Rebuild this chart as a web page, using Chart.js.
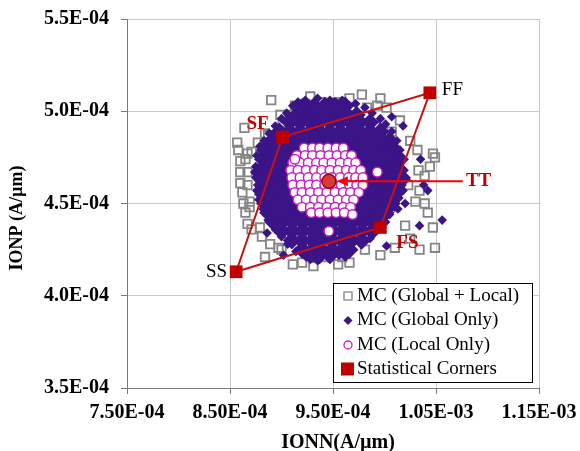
<!DOCTYPE html>
<html>
<head>
<meta charset="utf-8">
<script src="https://cdn.jsdelivr.net/npm/chart.js@4.4.0/dist/chart.umd.min.js"></script>
<style>
  body { margin: 0; background: #fff; }
  #wrap { width: 580px; height: 451px; }
</style>
</head>
<body>
<div id="wrap"><canvas id="graphique" width="580" height="451"></canvas></div>
<script>
// valeurs en 1E-06 A/µm (x = IONN, y = IONP)
const xTicks = [750, 850, 950, 1050, 1150];
const xTickLabels = ["7.50E-04", "8.50E-04", "9.50E-04", "1.05E-03", "1.15E-03"];
const yTicks = [350, 400, 450, 500, 550];
const yTickLabels = ["3.5E-04", "4.0E-04", "4.5E-04", "5.0E-04", "5.5E-04"];

const seriesNames = ["MC (Global + Local)", "MC (Global Only)", "MC (Local Only)", "Statistical Corners"];

// coins statistiques
const cornerNames = ["SS", "SF", "FF", "FS"];
const cornerX = [856, 901, 1044, 996];
const cornerY = [413, 486, 510, 437];
const typicalX = [946];
const typicalY = [462];

// MC global + local (carrés gris)
const globalLocalX = [890,913,923,939,958,978,983,993,1002,1007,991,1032,1047,1049,1044,1033,1039,1030,1039,1042,
  1020,1047,1049,1034,981,959,955,942,931,911,900,897,884,881,879,867,869,869,867,860,860,867,860,865,867,871,877,
  884,887,901,899,908,863,857,864,858,862,865,871,889,920,966,996,1010,1025,1015,1025,1023,1034,966,928,996];
const globalLocalY = [506,503,504,505,505,509,502,503,502,489,492,479,477,475,470,468,465,451,450,445,
  438,437,426,425,425,421,417,421,416,417,425,426,421,432,437,439,448,451,460,461,467,467,473,474,477,478,483,
  488,487,494,498,498,450,483,491,479,456,445,436,428,418,418,422,426,431,495,484,460,457,507,508,507];

// MC global seul : bord du nuage et points isolés
const globalX = [923,935,947,959,972,981,988,996,1001,1007,1012,1015,1017,1019,1021,1018,1014,1010,1005,1000,
  994,986,977,966,956,947,935,924,914,906,900,894,887,882,878,876,875,875,876,879,883,888,894,900,905,911,
  916,950,1007,1018,1004,1035,1038,1042,1056,1034,1002,962,1020,1013,884,886,902,937,923,874,879,942];
const globalY = [506,507,506,506,504,502,499,496,493,489,484,479,474,468,463,457,453,448,444,440,
  436,431,428,425,422,420,419,421,424,428,432,436,441,447,452,457,464,470,476,481,484,488,492,496,499,503,
  505,505,497,492,484,474,460,457,441,438,427,421,450,447,455,434,422,420,423,467,475,423];

// MC global seul : coeur dense (par lignes de IONP)
const globalCoreRowY = [503, 498, 494, 489, 484, 479, 474, 469, 464, 460, 455, 450, 445, 440, 435, 430, 425, 422];
const globalCoreRowX = [
  [923,932,942,952,962],
  [915,925,934,944,954,964,973],
  [908,918,928,937,947,957,967,976,986],
  [898,908,918,928,937,947,957,967,976,986,996],
  [891,901,910,920,930,940,949,959,969,978,988,998,1005],
  [884,894,903,913,923,932,942,952,962,971,981,991,1000,1010],
  [882,891,901,911,921,969,979,989,998,1008,1015],
  [881,889,898,908,976,986,996,1005,1013],
  [881,891,901,910,978,988,998,1008,1017],
  [881,889,898,908,976,986,996,1005,1013],
  [882,892,901,911,974,984,994,1003,1010],
  [884,894,903,913,923,961,971,981,991,1000,1007],
  [887,896,906,916,925,935,945,955,964,974,984,993,1001],
  [892,901,911,921,931,940,950,960,969,979,989,997],
  [900,910,920,930,939,949,959,968,978,988],
  [910,920,930,939,949,959,968,978],
  [920,930,939,949,959,966],
  [928,937,947]
];

// MC local seul (cercles roses)
const localRowY = [480, 476, 472, 468, 464, 460, 456, 452, 448, 445, 474, 444, 435, 467];
const localRowX = [
  [922,930,937,945,953,960],
  [915,923,930,938,946,954,962,968],
  [911,918,926,934,941,949,957,965,972],
  [909,916,924,932,939,947,955,963,970,977],
  [910,918,926,934,942,949,957,965,972,979],
  [911,919,927,934,942,950,958,966,973,979],
  [913,920,928,936,944,952,960,967,975],
  [916,924,932,939,947,955,963,970],
  [920,928,936,944,952,960,967],
  [929,937,945,953,961],
  [913], [969], [946], [993]
];

function rowsToPoints(rowY, rowX) {
  const pts = [];
  rowY.forEach((y, i) => rowX[i].forEach(x => pts.push({x: x, y: y})));
  return pts;
}
function toPoints(xs, ys) {
  return xs.map((x, i) => ({x: x, y: ys[i]}));
}

const serif = "'Liberation Serif', 'Times New Roman', serif";
const ROUGE = "#c00000";
const VIOLET = "#3b1487";
const GRIS = "#858585";
const MAGENTA = "#c41fc4";

const cornerPoints = toPoints(cornerX, cornerY);
const outline = cornerPoints.concat([cornerPoints[0]]);

const datasets = [
  {label: seriesNames[3], data: cornerPoints, pointStyle: "rect", pointRadius: 9,
   backgroundColor: ROUGE, borderWidth: 0},
  {label: "TT", data: toPoints(typicalX, typicalY), pointStyle: "circle", pointRadius: 7,
   backgroundColor: "#d83a3a", borderColor: "#a00000", borderWidth: 1.5},
  {label: "contour", data: outline, showLine: true, pointRadius: 0,
   borderColor: "#c81010", borderWidth: 2, fill: false},
  {label: seriesNames[2], data: rowsToPoints(localRowY, localRowX), pointStyle: "circle", pointRadius: 4.8,
   backgroundColor: "#ffffff", borderColor: MAGENTA, borderWidth: 1.5},
  {label: seriesNames[1], data: toPoints(globalX, globalY), pointStyle: "rectRot", pointRadius: 4.8,
   backgroundColor: VIOLET, borderWidth: 0},
  {label: seriesNames[1] + " core", data: rowsToPoints(globalCoreRowY, globalCoreRowX), pointStyle: "rectRot", pointRadius: 9,
   backgroundColor: VIOLET, borderWidth: 0},
  {label: seriesNames[0], data: toPoints(globalLocalX, globalLocalY), pointStyle: "rect", pointRadius: 6,
   backgroundColor: "rgba(0,0,0,0)", borderColor: GRIS, borderWidth: 1.8}
];

// étiquettes des coins (décalages en pixels)
const labelStyle = {
  SS: {dx: -9, dy: 0, align: "right", color: "#000", weight: "normal"},
  SF: {dx: -25, dy: -13, align: "center", color: ROUGE, weight: "bold"},
  FF: {dx: 12, dy: -3, align: "left", color: "#000", weight: "normal"},
  FS: {dx: 27, dy: 16, align: "center", color: ROUGE, weight: "bold"}
};

const annotations = {
  id: "annotations",
  afterDatasetsDraw(chart) {
    const {ctx, chartArea: ca, scales: {x, y}} = chart;
    ctx.save();
    ctx.textBaseline = "middle";
    // noms des coins
    cornerNames.forEach((name, i) => {
      const s = labelStyle[name];
      ctx.font = s.weight + " 19px " + serif;
      ctx.fillStyle = s.color;
      ctx.textAlign = s.align;
      ctx.fillText(name, x.getPixelForValue(cornerX[i]) + s.dx, y.getPixelForValue(cornerY[i]) + s.dy);
    });
    // TT + flèche
    const tx = x.getPixelForValue(typicalX[0]);
    const ty = y.getPixelForValue(typicalY[0]);
    ctx.strokeStyle = "#ff0000";
    ctx.fillStyle = "#ff0000";
    ctx.lineWidth = 2;
    ctx.beginPath();
    ctx.moveTo(tx + 134, ty);
    ctx.lineTo(tx + 16, ty);
    ctx.stroke();
    ctx.beginPath();
    ctx.moveTo(tx + 8, ty);
    ctx.lineTo(tx + 19, ty - 5);
    ctx.lineTo(tx + 19, ty + 5);
    ctx.closePath();
    ctx.fill();
    ctx.font = "bold 19px " + serif;
    ctx.fillStyle = ROUGE;
    ctx.textAlign = "left";
    ctx.fillText("TT", tx + 137, ty);

    // légende
    const bx = ca.right - 206, by = ca.bottom - 105, bw = 199, bh = 99;
    ctx.fillStyle = "#fff";
    ctx.fillRect(bx, by, bw, bh);
    ctx.strokeStyle = "#000";
    ctx.lineWidth = 1;
    ctx.strokeRect(bx + 0.5, by + 0.5, bw, bh);
    const mx = bx + 15;
    seriesNames.forEach((name, i) => {
      const ly = by + 13 + i * 24.5;
      ctx.beginPath();
      if (i === 0) {
        ctx.strokeStyle = GRIS; ctx.lineWidth = 1.3;
        ctx.strokeRect(mx - 4, ly - 4, 8, 8);
      } else if (i === 1) {
        ctx.fillStyle = VIOLET;
        ctx.moveTo(mx, ly - 4.5); ctx.lineTo(mx + 4.5, ly); ctx.lineTo(mx, ly + 4.5); ctx.lineTo(mx - 4.5, ly);
        ctx.closePath(); ctx.fill();
      } else if (i === 2) {
        ctx.fillStyle = "#fff"; ctx.strokeStyle = MAGENTA; ctx.lineWidth = 1.3;
        ctx.arc(mx, ly, 4, 0, Math.PI * 2); ctx.fill(); ctx.stroke();
      } else {
        ctx.fillStyle = ROUGE;
        ctx.fillRect(mx - 7, ly - 7, 13, 13);
      }
      ctx.fillStyle = "#000";
      ctx.font = "19px " + serif;
      ctx.textAlign = "left";
      ctx.fillText(name, mx + 9, ly);
    });

    // titres des axes
    ctx.font = "bold 20px " + serif;
    ctx.fillStyle = "#000";
    ctx.textAlign = "center";
    ctx.fillText("IONN(A/µm)", (ca.left + ca.right) / 2 + 5, 443);
    ctx.translate(17, 218);
    ctx.rotate(-Math.PI / 2);
    ctx.font = "bold 18px " + serif;
    ctx.fillText("IONP (A/µm)", 0, 0);
    ctx.restore();
  }
};

new Chart(document.querySelector("#graphique"), {
  type: "scatter",
  data: {datasets: datasets},
  options: {
    responsive: false,
    animation: false,
    devicePixelRatio: 1,
    layout: {padding: {top: 19, right: 41, left: 0, bottom: 0}},
    plugins: {legend: {display: false}, tooltip: {enabled: false}},
    scales: {
      x: {
        min: 750, max: 1150,
        afterFit: (s) => { s.height = 63; s.paddingLeft = 0; s.paddingRight = 0; },
        afterBuildTicks: (s) => { s.ticks = xTicks.map(v => ({value: v})); },
        ticks: {
          callback: (v) => xTickLabels[xTicks.indexOf(v)],
          font: {family: serif, size: 20, weight: "bold"}, color: "#000", padding: 7, maxRotation: 0
        },
        grid: {color: "#c8c8c8", tickColor: "#7a7a7a", tickLength: 6},
        border: {color: "#7a7a7a"}
      },
      y: {
        min: 350, max: 550,
        afterFit: (s) => { s.width = 127; s.paddingTop = 0; s.paddingBottom = 0; },
        afterBuildTicks: (s) => { s.ticks = yTicks.map(v => ({value: v})); },
        ticks: {
          callback: (v) => yTickLabels[yTicks.indexOf(v)],
          font: {family: serif, size: 20, weight: "bold"}, color: "#000", padding: 12
        },
        grid: {color: "#c8c8c8", tickColor: "#7a7a7a", tickLength: 6},
        border: {color: "#7a7a7a"}
      }
    }
  },
  plugins: [annotations]
});
</script>
</body>
</html>
